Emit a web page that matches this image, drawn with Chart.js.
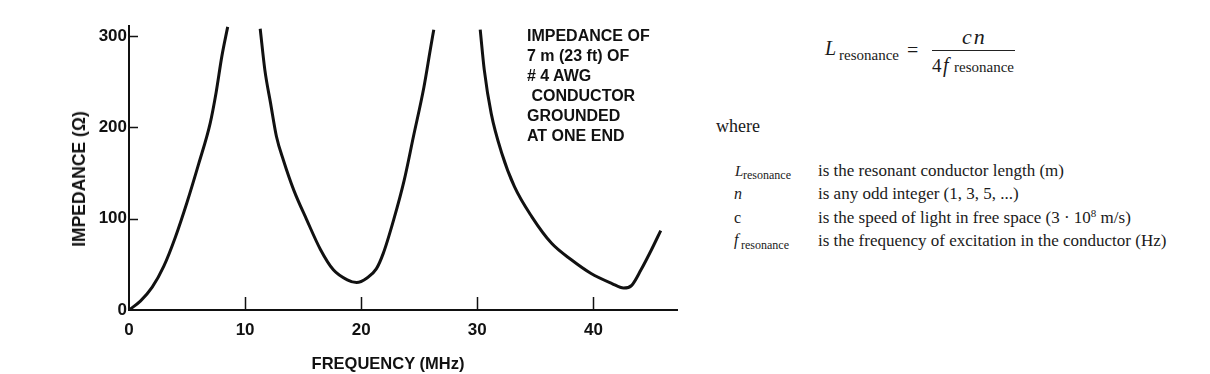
<!DOCTYPE html>
<html>
<head>
<meta charset="utf-8">
<script src="https://cdn.jsdelivr.net/npm/chart.js@4.4.1/dist/chart.umd.min.js"></script>
<style>
  html, body { margin: 0; padding: 0; background: #fff; }
  #wrap { position: relative; width: 1210px; height: 374px; overflow: hidden; }
  #chart { position: absolute; left: 0; top: 0; }
  .sans { position: absolute; font-family: 'Liberation Sans', Arial, sans-serif; font-weight: bold; color: #111; white-space: pre; }
  .serif { position: absolute; font-family: 'Liberation Serif', 'Times New Roman', serif; color: #1a1a1a; white-space: pre; line-height: 1; }
  .it { font-style: italic; }
</style>
</head>
<body>
<div id="wrap">
  <canvas id="chart" width="700" height="374"></canvas>

  <!-- axis titles -->
  <div class="sans" style="font-size:17.5px; line-height:18px; left:79px; top:179px; transform:translate(-50%,-50%) rotate(-90deg);">IMPEDANCE (Ω)</div>
  <div class="sans" style="font-size:16.5px; line-height:17px; left:388px; top:363px; transform:translate(-50%,-50%);">FREQUENCY (MHz)</div>

  <!-- note inside the plot -->
  <div class="sans" style="font-size:16px; line-height:20px; left:527px; top:26px;">IMPEDANCE OF
7 m (23 ft) OF
# 4 AWG
 CONDUCTOR
GROUNDED
AT ONE END</div>

  <!-- formula -->
  <div class="serif it" style="font-size:20px; left:825px; top:38px;">L</div>
  <div class="serif" style="font-size:15px; left:839px; top:48px;">resonance</div>
  <div class="serif" style="font-size:20px; left:907px; top:40px;">=</div>
  <div class="serif it" style="font-size:22px; left:962px; top:26px; letter-spacing:2px;">cn</div>
  <div style="position:absolute; left:932px; top:50px; width:83px; height:1px; background:#222;"></div>
  <div class="serif" style="font-size:19px; left:932px; top:56px;">4</div>
  <div class="serif it" style="font-size:20px; left:943px; top:55px;">f</div>
  <div class="serif" style="font-size:15px; left:954px; top:60px;">resonance</div>

  <div class="serif" style="font-size:18px; left:716px; top:117px;">where</div>

  <!-- definitions -->
  <div class="serif it" style="font-size:15px; left:735px; top:164px;">L</div>
  <div class="serif" style="font-size:12px; left:743px; top:169px;">resonance</div>
  <div class="serif" style="font-size:17px; left:818px; top:162px;">is the resonant conductor length (m)</div>

  <div class="serif it" style="font-size:16px; left:734px; top:186px;">n</div>
  <div class="serif" style="font-size:17px; left:818px; top:185px;">is any odd integer (1, 3, 5, ...)</div>

  <div class="serif" style="font-size:16px; left:734px; top:210px;">c</div>
  <div class="serif" style="font-size:17px; left:818px; top:209px;">is the speed of light in free space (3 · 10<sup style="font-size:11px; vertical-align:6px; line-height:0;">8</sup> m/s)</div>

  <div class="serif it" style="font-size:16px; left:734px; top:232px;">f</div>
  <div class="serif" style="font-size:12px; left:741px; top:239px;">resonance</div>
  <div class="serif" style="font-size:17px; left:818px; top:232px;">is the frequency of excitation in the conductor (Hz)</div>
</div>

<script>
  // Tick values
  const xTicks = [0, 10, 20, 30, 40]
  const yTicks = [0, 100, 200, 300]

  // First rise towards the quarter-wave resonance (MHz, ohms)
  const freqRise1 = [0, 1, 2, 3, 4, 5, 6, 7, 7.5, 8, 8.5]
  const impRise1 = [0, 10, 25, 48, 80, 118, 160, 205, 238, 278, 310]

  // Middle branch: falls to the dip near 20 MHz, rises again
  const freqMid = [11.3, 11.7, 12.2, 12.7, 13.3, 14.2, 15.3, 16.5, 17.6, 18.8, 19.6, 20.5, 21.3, 21.9, 22.8, 23.7, 24.5, 25.4, 25.95, 26.25]
  const impMid = [308, 263, 226, 190, 164, 131, 99, 66, 44, 33, 30, 35, 45, 62, 99, 142, 190, 244, 285, 307]

  // Last branch: falls to the dip near 42.5 MHz, rises again
  const freqEnd = [30.25, 30.6, 31.2, 32.1, 33.2, 34.7, 36.4, 38.1, 39.8, 41.6, 42.6, 43.3, 44.1, 45, 45.8]
  const impEnd = [307, 263, 215, 172, 135, 102, 73, 55, 40, 29, 24, 27, 44, 66, 87]

  const toPoints = (xs, ys) => xs.map((x, i) => ({ x, y: ys[i] }))

  const curve = {
    borderColor: '#111',
    borderWidth: 3,
    pointRadius: 0,
    fill: false,
    cubicInterpolationMode: 'monotone'
  }

  // short tick marks pointing into the plot
  const innerTicks = {
    id: 'innerTicks',
    afterDatasetsDraw(chart) {
      const { ctx, scales: { x, y } } = chart
      ctx.save()
      ctx.strokeStyle = '#111'
      ctx.lineWidth = 1.5
      ctx.beginPath()
      xTicks.forEach(v => {
        if (v === 0) return
        const px = Math.round(x.getPixelForValue(v)) + 0.5
        ctx.moveTo(px, y.bottom)
        ctx.lineTo(px, y.bottom - 13)
      })
      yTicks.forEach(v => {
        if (v === 0) return
        const py = Math.round(y.getPixelForValue(v)) + 0.5
        ctx.moveTo(x.left, py)
        ctx.lineTo(x.left + 9, py)
      })
      ctx.stroke()
      ctx.restore()
    }
  }

  const tickFont = { family: "'Liberation Sans', Arial, sans-serif", size: 17, weight: 'bold' }

  new Chart(document.getElementById('chart'), {
    type: 'line',
    data: {
      datasets: [
        { ...curve, data: toPoints(freqRise1, impRise1) },
        { ...curve, data: toPoints(freqMid, impMid) },
        { ...curve, data: toPoints(freqEnd, impEnd) }
      ]
    },
    options: {
      responsive: false,
      devicePixelRatio: 1,
      animation: false,
      layout: { padding: { top: 26, right: 23, left: 0, bottom: 0 } },
      plugins: { legend: { display: false }, tooltip: { enabled: false } },
      scales: {
        x: {
          type: 'linear',
          min: 0,
          max: 47.2,
          afterBuildTicks: s => { s.ticks = xTicks.map(value => ({ value })) },
          afterFit: s => { s.height = 64 },
          grid: { display: false, drawTicks: false },
          border: { color: '#111', width: 2 },
          ticks: { color: '#111', font: tickFont, padding: 10, maxRotation: 0 }
        },
        y: {
          type: 'linear',
          min: 0,
          max: 311,
          afterBuildTicks: s => { s.ticks = yTicks.map(value => ({ value })) },
          afterFit: s => { s.width = 129 },
          grid: { display: false, drawTicks: false },
          border: { color: '#111', width: 2 },
          ticks: { color: '#111', font: tickFont, padding: 2 }
        }
      }
    },
    plugins: [innerTicks]
  })
</script>
</body>
</html>
